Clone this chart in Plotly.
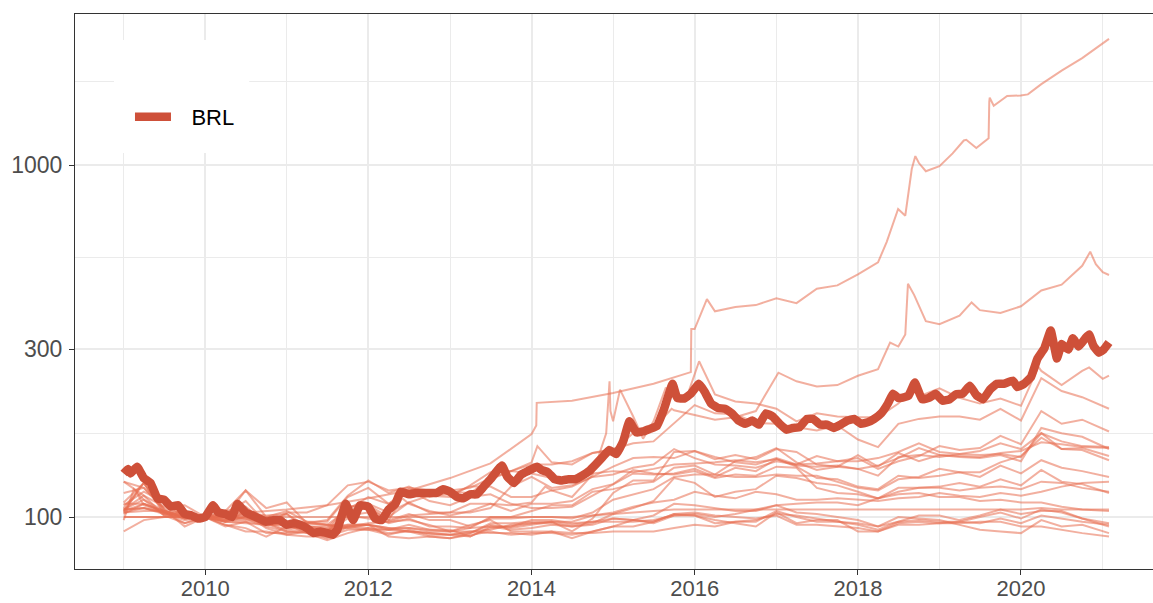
import plotly.graph_objects as go
import pandas as pd

# ---------------- data (index, start of 2010 = 100) ----------------
# common quarterly grid for the smoother currencies
Q_DATES = [d.strftime('%Y-%m-%d') for d in pd.date_range('2009-01-01', periods=48, freq='QS')] + ['2021-01-29']

ZAR = [126,121,105,99, 100,99,102,93, 89,91,91,107, 109,103,110,115, 114,123,134,135, 141,141,144,152, 156,162,164,185, 208,197,196,185, 184,180,176,182, 166,158,184,190, 193,193,189,203, 188,248,228,219, 203]
MXN = [105,112,101,103, 100,94,97,95, 95,90,89,105, 106,98,102,98, 98,94,99,99, 100,100,99,103, 112,116,120,130, 132,132,144,148, 157,143,136,139, 150,139,152,144, 150,148,147,150, 144,179,173,169, 156]
INR = [104,109,103,103, 100,97,100,96, 96,96,95,105, 114,109,120,114, 118,117,128,135, 133,129,129,133, 135,134,137,141, 142,143,145,143, 146,140,139,140, 137,140,147,157, 150,149,148,152, 154,163,161,158, 157]
COP = [110,125,105,94, 100,95,93,88, 94,92,87,94, 95,88,87,88, 87,90,95,93, 95,97,91,99, 117,127,127,153, 154,148,143,141, 147,141,149,144, 147,137,144,149, 159,155,157,170, 161,200,184,189, 175]
CLP = [126,115,107,108, 100,104,107,96, 92,94,92,101, 103,96,99,94, 94,93,100,100, 104,108,108,118, 120,124,126,138, 140,132,130,130, 132,131,131,126, 121,119,128,130, 137,134,134,143, 149,168,156,155, 145]
PLN = [104,125,102,101, 100,100,119,100, 104,97,97,114, 121,109,119,111, 108,114,116,109, 106,106,107,115, 124,133,132,133, 137,130,138,135, 146,139,129,128, 122,120,131,129, 131,134,130,140, 133,145,138,135, 130]
HUF = [106,125,103,96, 100,104,119,106, 110,96,98,115, 127,117,122,115, 116,122,122,114, 114,119,122,130, 139,147,148,147, 154,146,150,146, 156,153,141,139, 137,131,148,150, 148,151,154,162, 156,173,164,159, 158]
IDR = [117,121,106,102, 100,97,96,95, 96,93,91,94, 96,97,101,102, 103,103,106,122, 130,121,123,130, 132,138,141,156, 147,141,140,138, 144,141,142,144, 144,147,153,162, 153,151,150,151, 148,173,156,157, 149]
MYR = [105,106,103,99, 100,95,91,91, 89,88,88,92, 92,89,92,89, 89,91,92,95, 96,96,94,96, 102,106,111,129, 125,114,118,120, 131,129,125,123, 118,113,118,121, 121,119,121,122, 120,126,125,121, 118]
PEN = [109,109,104,100, 100,98,98,97, 97,97,95,94, 93,92,91,90, 89,90,96,96, 97,97,97,101, 103,107,110,112, 118,115,113,118, 116,112,112,113, 112,111,113,114, 117,115,114,117, 115,118,122,125, 126]
CZK = [105,115,101,96, 100,102,111,96, 102,92,91,99, 108,100,110,103, 103,109,109,104, 109,109,111,120, 124,136,133,132, 135,129,132,131, 139,138,121,117, 116,113,121,121, 122,125,122,128, 123,136,126,124, 117]
CNY = [100,100,100,100, 100,100,99,98, 96,96,95,93, 92,92,93,92, 91,91,90,90, 89,91,90,90, 91,91,91,93, 95,94,97,98, 102,101,99,97, 95,92,97,101, 101,98,101,105, 102,104,104,99, 94]
THB = [105,106,102,100, 100,97,97,90, 90,91,92,93, 95,92,95,92, 92,88,93,94, 98,98,96,97, 99,98,101,109, 108,106,104,104, 108,103,102,100, 98,94,100,99, 98,95,92,91, 90,98,94,95, 90]
KRW = [108,118,110,100, 100,97,104,97, 97,93,91,101, 99,97,98,95, 91,95,98,91, 91,91,87,91, 94,94,97,102, 101,98,96,94, 103,96,98,98, 91,91,96,97, 96,97,100,103, 99,105,103,99, 96]
TWD = [103,106,103,101, 100,99,101,96, 91,92,90,95, 95,93,93,91, 91,93,94,92, 93,95,94,95, 99,98,97,102, 103,101,100,99, 101,95,95,94, 93,91,95,95, 96,96,97,97, 94,94,92,90, 88]
SGD = [102,109,104,99, 100,100,99,94, 91,90,86,90, 93,90,91,88, 87,89,91,89, 90,90,89,91, 94,98,96,101, 101,96,97,97, 104,100,97,97, 96,94,97,98, 97,97,96,99, 96,101,99,97, 95]
PHP = [103,104,104,102, 100,98,100,95, 95,94,94,95, 95,93,91,90, 89,88,94,94, 96,97,95,97, 97,97,98,101, 102,100,102,105, 108,109,110,110, 108,113,116,117, 114,114,111,112, 110,110,107,105, 104]
PEG = [100,100,100,100, 100,100,100,100, 100,100,100,100, 100,100,100,100, 100,100,100,100, 100,100,100,101, 102,103,104,105, 105,105,105,105, 105,105,105,105, 105,105,105,105, 105,105,105,105, 105,106,105,105, 105]

ARS_DATES = ['2009-01-01','2009-04-01','2009-07-01','2009-10-01','2010-01-01','2010-07-01','2011-01-01','2011-07-01',
             '2012-01-01','2012-07-01','2013-01-01','2013-07-01','2014-01-01','2014-01-22','2014-01-24','2014-07-01',
             '2015-01-01','2015-07-01','2015-12-15','2015-12-17','2016-01-01','2016-02-25','2016-04-01','2016-07-01',
             '2016-10-01','2017-01-01','2017-04-01','2017-07-01','2017-10-01','2018-01-01','2018-04-01','2018-05-10',
             '2018-06-30','2018-08-01','2018-08-30','2018-09-15','2018-10-01','2018-11-01','2019-01-01','2019-03-01',
             '2019-04-20','2019-05-01','2019-06-15','2019-08-09','2019-08-12','2019-08-14','2019-09-01','2019-10-31',
             '2019-12-31','2020-02-01','2020-04-01','2020-07-01','2020-10-01','2021-01-01','2021-01-29']
ARS = [91,98,100,101,100,103,105,108, 113,119,129,142,172,182,211,214, 225,239,258,342,342,416,384,395,
       400,418,405,445,455,489,529,605, 750,718,974,1060,1013,960,992,1079, 1174,1179,1118,1192,1513,1553,1474,1571,
       1576,1587,1697,1855,2013,2213,2282]

TRY_DATES = ['2009-01-01','2009-03-01','2009-04-01','2009-07-01','2009-10-01','2010-01-01','2010-04-01','2010-07-01',
             '2010-10-01','2011-01-01','2011-04-01','2011-07-01','2011-10-01','2012-01-01','2012-04-01','2012-07-01',
             '2012-10-01','2013-01-01','2013-04-01','2013-07-01','2013-10-01','2014-01-01','2014-01-27','2014-04-01',
             '2014-07-01','2014-10-01','2015-01-01','2015-04-01','2015-07-01','2015-09-20','2015-10-01','2016-01-01',
             '2016-04-01','2016-07-01','2016-10-01','2017-01-10','2017-04-01','2017-07-01','2017-10-01','2018-01-01',
             '2018-04-01','2018-05-25','2018-07-01','2018-08-01','2018-08-13','2018-09-10','2018-10-01','2018-11-01',
             '2019-01-01','2019-04-01','2019-05-25','2019-07-01','2019-10-01','2020-01-01','2020-04-01','2020-07-01',
             '2020-10-01','2020-11-06','2020-12-01','2021-01-01','2021-01-29']
TRY = [103,117,108,103,98,100,101,104, 96,103,103,108,123,126,119,121, 119,119,121,129,135,143,159,143,
       141,152,155,173,179,203,201,195, 189,192,200,257,243,235,237,252, 263,313,305,330,460,427,400,360,
       353,373,407,387,380,397,440,457, 517,567,523,496,487]

RUB_DATES = ['2009-01-01','2009-02-15','2009-04-01','2009-07-01','2009-10-01','2010-01-01','2010-04-01','2010-07-01',
             '2010-10-01','2011-01-01','2011-04-01','2011-07-01','2011-10-01','2012-01-01','2012-04-01','2012-06-01',
             '2012-07-01','2012-10-01','2013-01-01','2013-04-01','2013-07-01','2013-10-01','2014-01-01','2014-03-03',
             '2014-04-01','2014-07-01','2014-10-01','2014-12-01','2014-12-16','2014-12-20','2015-01-01','2015-02-01',
             '2015-04-01','2015-05-15','2015-07-01','2015-08-25','2015-10-01','2015-12-01','2016-01-21','2016-04-01',
             '2016-07-01','2016-10-01','2017-01-01','2017-04-01','2017-07-01','2017-10-01','2018-01-01','2018-04-01',
             '2018-07-01','2018-09-10','2018-10-01','2019-01-01','2019-04-01','2019-07-01','2019-10-01','2020-01-01',
             '2020-03-19','2020-04-01','2020-07-01','2020-10-01','2020-11-01','2021-01-01','2021-01-29']
RUB = [98,120,112,104,100,100,98,103, 101,102,94,93,107,107,98,113, 109,104,101,104,109,108,110,122,
       119,114,132,173,243,200,187,230, 193,167,187,233,217,223,277,223, 213,210,203,187,197,193,192,192,
       210,233,220,232,218,210,217,207, 267,260,237,260,266,247,252]

BRL_DATES = ['2009-01-01','2009-01-20','2009-02-01','2009-03-02','2009-04-01','2009-05-01','2009-06-01','2009-07-01',
             '2009-08-01','2009-09-01','2009-10-01','2009-11-01','2009-12-01','2010-01-01','2010-02-05','2010-03-01',
             '2010-04-01','2010-05-01','2010-05-25','2010-07-01','2010-08-01','2010-09-01','2010-10-01','2010-11-01',
             '2010-12-01','2011-01-01','2011-02-01','2011-03-01','2011-04-01','2011-05-01','2011-06-01','2011-07-01',
             '2011-07-25','2011-08-15','2011-09-22','2011-10-25','2011-11-25','2012-01-01','2012-02-01','2012-03-01',
             '2012-04-01','2012-05-01','2012-05-25','2012-07-01','2012-08-01','2012-09-01','2012-10-01','2012-11-01',
             '2012-12-01','2013-01-01','2013-02-01','2013-03-01','2013-04-01','2013-05-01','2013-06-01','2013-07-01',
             '2013-08-21','2013-09-15','2013-10-15','2013-11-15','2013-12-15','2014-01-25','2014-02-15','2014-03-15',
             '2014-04-15','2014-05-15','2014-06-15','2014-07-15','2014-08-15','2014-09-15','2014-10-15','2014-11-15',
             '2014-12-15','2015-01-15','2015-02-15','2015-03-15','2015-04-15','2015-05-15','2015-06-15','2015-07-15',
             '2015-08-15','2015-09-24','2015-10-15','2015-11-15','2015-12-15','2016-01-20','2016-02-15','2016-03-15',
             '2016-04-15','2016-05-15','2016-06-15','2016-07-15','2016-08-15','2016-09-15','2016-10-15','2016-11-15',
             '2016-12-15','2017-01-15','2017-02-15','2017-03-15','2017-04-15','2017-05-18','2017-06-15','2017-07-15',
             '2017-08-15','2017-09-15','2017-10-15','2017-11-15','2017-12-15','2018-01-15','2018-02-15','2018-03-15',
             '2018-04-15','2018-05-15','2018-06-07','2018-06-30','2018-07-15','2018-08-15','2018-09-13','2018-10-15',
             '2018-11-15','2018-12-15','2019-01-15','2019-02-15','2019-03-15','2019-04-15','2019-05-17','2019-06-15',
             '2019-07-15','2019-08-15','2019-09-15','2019-10-15','2019-11-26','2019-12-15','2020-01-15','2020-02-15',
             '2020-03-15','2020-04-15','2020-05-13','2020-06-10','2020-07-01','2020-07-31','2020-08-20','2020-09-15',
             '2020-10-15','2020-11-01','2020-11-20','2020-12-15','2021-01-05','2021-01-29']
BRL = [133,137,133,139,129,125,113,112, 107,108,102,101,99,100,108,103,
       102,100,109,103,101,99,97,98, 98,95,96,95,93,90,91,90,
       89,92,109,98,108,107,99,98, 105,109,118,116,117,117,117,117,
       120,118,114,113,116,116,122,128, 140,130,125,132,135,139,136,134,
       128,127,128,128,131,135,141,148, 155,151,164,187,174,175,178,181,
       201,239,218,217,224,239,227,210, 204,203,197,188,184,188,183,197,
       193,184,177,179,180,190,190,183, 183,179,183,188,190,184,186,190,
       197,210,224,218,218,221,241,216, 218,224,214,216,223,224,236,222,
       216,230,239,239,244,234,239,250, 282,302,339,282,310,299,322,305,
       322,330,307,293,299,313]

OTHERS = [ZAR, MXN, INR, COP, CLP, PLN, HUF, IDR, MYR, PEN, CZK, CNY, THB, KRW, TWD, SGD, PHP, PEG]

Y_TICKS = [100, 300, 1000]
Y_MINOR = [173.2, 547.7, 1732.1]
X_TICKS = ['2010', '2012', '2014', '2016', '2018', '2020']
X_MINOR = ['2009', '2011', '2013', '2015', '2017', '2019', '2021']

FAINT = 'rgba(232,110,80,0.55)'
STRONG = '#CE5039'
GRID = '#EBEBEB'
FONT = 'Liberation Sans, Arial, sans-serif'

fig = go.Figure()
for s in OTHERS:
    fig.add_trace(go.Scatter(x=Q_DATES, y=s, mode='lines', line=dict(color=FAINT, width=2),
                             showlegend=False, hoverinfo='skip'))
for d, s in [(ARS_DATES, ARS), (TRY_DATES, TRY), (RUB_DATES, RUB)]:
    fig.add_trace(go.Scatter(x=d, y=s, mode='lines', line=dict(color=FAINT, width=2),
                             showlegend=False, hoverinfo='skip'))
fig.add_trace(go.Scatter(x=BRL_DATES, y=BRL, mode='lines', name='\u2002\u2009BRL',
                         line=dict(color=STRONG, width=8.5, shape='spline', smoothing=0.3)))

# white legend box
fig.add_shape(type='rect', xref='paper', yref='paper', x0=0.0362, x1=0.1616, y0=0.7495, y1=0.9532,
              fillcolor='white', line=dict(width=0), layer='above')

fig.update_layout(
    width=1153, height=603,
    margin=dict(l=75, r=0, t=14, b=34, autoexpand=False),
    paper_bgcolor='white', plot_bgcolor='white',
    font=dict(family=FONT, size=23, color='#4D4D4D'),
    legend=dict(x=0.051, y=0.8144, xanchor='left', yanchor='middle', bgcolor='rgba(0,0,0,0)',
                font=dict(family=FONT, size=22, color='black'), itemwidth=36),
    xaxis=dict(type='date', range=['2008-05-28', '2021-08-14'], automargin=False,
               tickvals=[t + '-01-01' for t in X_TICKS], ticktext=X_TICKS,
               showgrid=True, gridcolor=GRID, gridwidth=1.6,
               minor=dict(tickvals=[t + '-01-01' for t in X_MINOR], showgrid=True, gridcolor=GRID, gridwidth=1, ticklen=0),
               ticks='outside', ticklen=5, tickwidth=1.2, tickcolor='#333333', ticklabelstandoff=-6,
               showline=True, linecolor='#333333', linewidth=1.2, mirror=True, zeroline=False,
               tickfont=dict(family=FONT, size=22, color='#4D4D4D')),
    yaxis=dict(type='log', range=[1.8523, 3.4290], automargin=False,
               tickvals=Y_TICKS, ticktext=[str(v) for v in Y_TICKS],
               showgrid=True, gridcolor=GRID, gridwidth=1.6,
               minor=dict(tickvals=Y_MINOR, showgrid=True, gridcolor=GRID, gridwidth=1, ticklen=0),
               ticks='outside', ticklen=5, tickwidth=1.2, tickcolor='#333333', ticklabelstandoff=2,
               showline=True, linecolor='#333333', linewidth=1.2, mirror=False, zeroline=False,
               tickfont=dict(family=FONT, size=23, color='#4D4D4D')),
)

fig.write_html('out.html', config={'displayModeBar': False},
               post_script="document.body.style.margin='0px';document.body.style.overflow='hidden';")
